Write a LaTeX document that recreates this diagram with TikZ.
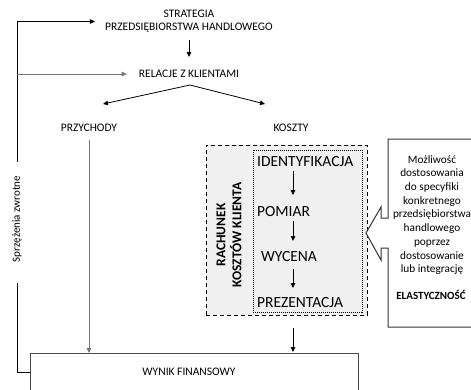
\documentclass[tikz,border=0pt]{standalone}
\usepackage{fontspec}
\setmainfont{Carlito}
\usetikzlibrary{arrows.meta,calc}
\begin{document}
\begin{tikzpicture}[x=1pt,y=-1pt,
  lbl/.style={inner sep=0pt, font=\fontsize{11.5}{13}\selectfont},
  bigstep/.style={inner sep=0pt, anchor=west, font=\fontsize{15.5}{18}\selectfont},
  arr/.style={-{Triangle[length=5pt,width=4.5pt]}, line width=0.8pt},
  ln/.style={line width=0.8pt},
  gline/.style={draw=black!55}]
\useasboundingbox (0,0) rectangle (471,389);
\clip (0,0) rectangle (471,389);

% text nodes
\node[lbl, align=center] (strat) at (189,21.5) {STRATEGIA\\PRZEDSIĘBIORSTWA HANDLOWEGO};
\node[lbl] (rel) at (189,74) {RELACJE Z KLIENTAMI};
\node[lbl] (przy) at (89,128) {PRZYCHODY};
\node[lbl] (koszty) at (291,128) {KOSZTY};

% result box
\node[draw=black!70, line width=0.8pt, minimum width=328pt, minimum height=60pt, anchor=north west, inner sep=0pt] (wbox) at (30,353) {};
\node[lbl] (wynik) at (189,372) {WYNIK FINANSOWY};

% dashed customer-costing box
\node[draw, dash pattern=on 4pt off 3pt, line width=0.8pt, fill=black!6, minimum width=161pt, minimum height=170pt, anchor=north west, inner sep=0pt] (rck) at (206,145) {};
\node[draw, dash pattern=on 1pt off 1pt, line width=0.6pt, minimum width=109pt, minimum height=162pt, anchor=north west, inner sep=0pt] (inner) at (253,150) {};
\node[rotate=90, inner sep=0pt, align=center, font=\bfseries\fontsize{13.5}{16}\selectfont] (rlab) at (229,235) {RACHUNEK\\KOSZTÓW KLIENTA};

\node[bigstep] (s1) at (257,162) {IDENTYFIKACJA};
\node[bigstep] (s2) at (257,212) {POMIAR};
\node[bigstep] (s3) at (261,257) {WYCENA};
\node[bigstep] (s4) at (257,303) {PREZENTACJA};
\coordinate (ax) at (293,0);

% callout
\draw[line width=1pt, draw=black!80, fill=white] (480,139) -- (388,139) -- (388,218) -- (381,218) -- (381,207) -- (366,233) -- (381,260) -- (381,248) -- (388,248) -- (388,327) -- (480,327);
\node[align=center, inner sep=0pt, font=\fontsize{11.3}{13.7}\selectfont] (ctext) at (432,215) {Możliwość\\dostosowania\\do specyfiki\\konkretnego\\przedsiębiorstwa\\handlowego\\poprzez\\dostosowanie\\lub integrację};
\node[inner sep=0pt, font=\bfseries\fontsize{11}{13}\selectfont] (elast) at (431,295) {ELASTYCZNOŚĆ};

% feedback label
\node[rotate=90, inner sep=0pt, font=\fontsize{11}{13}\selectfont] (sprz) at (17,219) {Sprzężenia zwrotne};
\coordinate (gtop) at (17,162);
\coordinate (gbot) at (17,283);
\coordinate (fbend) at (30,372);

% connectors
\draw[arr] ($(strat.center)+(0,18)$) -- ($(rel.center)+(0,-17)$);
\draw[arr] ($(rel.center)+(1,11)$) -- ($(przy.center)+(14,-24)$);
\draw[arr] ($(rel.center)+(1,11)$) -- ($(koszty.center)+(-26,-24)$);
\draw[arr] (gtop) |- ([xshift=-10pt]strat.west);
\draw[arr, gline] (gtop |- rel.west) -- ([xshift=-12pt]rel.west);
\draw[ln] (gbot) |- (fbend);
\draw[arr, gline] ($(przy.center)+(0,12)$) -- (przy.center |- wbox.north);
\draw[arr] ($(ax |- rck.south)+(0,12)$) -- ($(ax |- wbox.north)+(0,-1)$);

\draw[arr] ($(ax |- s1.center)+(0,9)$) -- ($(ax |- s2.center)+(0,-17)$);
\draw[arr] ($(ax |- s2.center)+(0,9)$) -- ($(ax |- s3.center)+(0,-16)$);
\draw[arr] ($(ax |- s3.center)+(0,12)$) -- ($(ax |- s4.center)+(0,-15)$);
\end{tikzpicture}
\end{document}
